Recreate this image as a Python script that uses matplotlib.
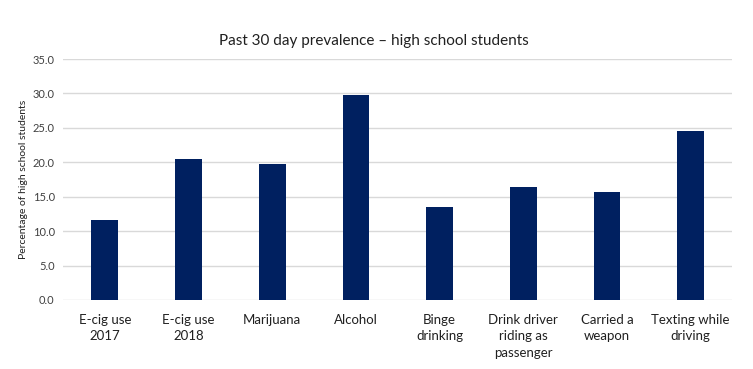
import matplotlib
matplotlib.use("Agg")
import matplotlib.pyplot as plt

categories = ["E-cig use\n2017", "E-cig use\n2018", "Marijuana", "Alcohol",
              "Binge\ndrinking", "Drink driver\nriding as\npassenger",
              "Carried a\nweapon", "Texting while\ndriving"]
values = [11.6, 20.5, 19.7, 29.8, 13.5, 16.4, 15.7, 24.5]
yticks = [0, 5, 10, 15, 20, 25, 30, 35]

plt.rcParams['font.family'] = ['Lato', 'DejaVu Sans']

fig = plt.figure(figsize=(7.53, 3.69), dpi=100)
ax = fig.add_axes([0.0837, 0.187, 0.889, 0.653])

x = range(len(categories))
ax.bar(x, values, width=0.32, color="#002060", zorder=3)

ax.set_xlim(-0.5, len(categories) - 0.5)
ax.set_ylim(0, 35)
ax.set_yticks(yticks)
ax.set_yticklabels([f"{v:.1f}" for v in yticks], fontsize=8, color="#404040")
ax.set_xticks(list(x))
ax.set_xticklabels(categories, fontsize=9.5, color="#202020", linespacing=1.45)
ax.tick_params(axis="both", length=0)
ax.tick_params(axis="x", pad=10)
ax.tick_params(axis="y", pad=6)

ax.grid(axis="y", color="#d9d9d9", linewidth=1, zorder=0)
for s in ["top", "right", "left", "bottom"]:
    ax.spines[s].set_visible(False)

ax.set_ylabel("Percentage of high school students", fontsize=7.5, color="#202020", labelpad=3)
fig.text(0.497, 0.888, "Past 30 day prevalence \u2013 high school students",
         ha="center", va="center", fontsize=11, color="#202020")

fig.savefig("out.png", dpi=100)
